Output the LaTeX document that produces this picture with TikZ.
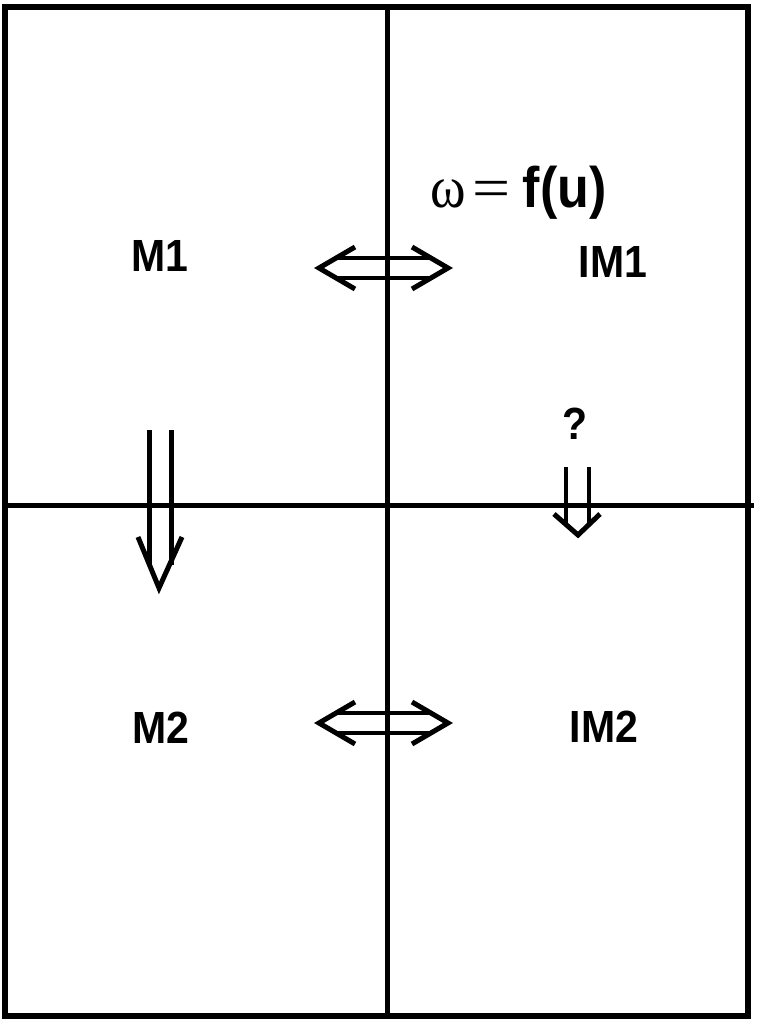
\documentclass[tikz,border=0pt]{standalone}
\usepackage{fontspec}
\setmainfont{Liberation Sans}
\newfontfamily\grfont{Liberation Serif}
\usepackage{graphicx}
\tikzset{
  frameline/.style={line width=5.5pt},
  divline/.style={line width=5pt},
  shaft/.style={line width=3.5pt},
  thickshaft/.style={line width=5pt},
  barb/.style={line width=5pt, line join=miter},
  lbl/.style={font=\fontsize{41}{41}\selectfont\bfseries, inner sep=0pt},
}
\begin{document}
\begin{tikzpicture}[x=1pt,y=-1pt]
\useasboundingbox (0,0) rectangle (757,1023);
\fill[white] (0,0) rectangle (757,1023);
% frame and dividers
\draw[frameline] (5,7) rectangle (748,1016);
\draw[divline] (387,7) -- (387,1016);
\draw[divline] (5,505) -- (754,505);
% labels
\node[lbl] (m1) at (160,256) {\scalebox{1}[1.1]{M1}};
\node[lbl] (im1) at (613,262) {\scalebox{1}[1.1]{IM1}};
\node[lbl] (m2) at (161,728) {\scalebox{1}[1.1]{M2}};
\node[lbl] (im2) at (604,727) {\scalebox{1}[1.1]{IM2}};
\node[lbl] (q) at (575,424) {\scalebox{1}[1.1]{?}};
\node[anchor=base west, inner sep=0pt] (eq) at (430,207)
  {\fontsize{52}{52}\selectfont\scalebox{1}[1.1]{{\grfont\fontsize{54}{54}\selectfont ω}\hspace{7pt}{\grfont\scalebox{1.3}[1]{=}}\hspace{12pt}\textbf{f(u)}}};
% top double arrow
\draw[shaft] (337,258) -- (430,258);
\draw[shaft] (337,278) -- (430,278);
\draw[barb] (355,247) -- (319,268) -- (355,289);
\draw[barb] (412,247) -- (448,268) -- (412,289);
% bottom double arrow
\draw[shaft] (337,713) -- (430,713);
\draw[shaft] (337,733) -- (430,733);
\draw[barb] (355,702) -- (319,723) -- (355,744);
\draw[barb] (412,702) -- (448,723) -- (412,744);
% left down arrow
\draw[thickshaft] (149,430) -- (149,565);
\draw[thickshaft] (171,430) -- (171,565);
\draw[barb] (138,537) -- (159,588) -- (182,537);
% right down arrow
\draw[shaft] (566,467) -- (566,525);
\draw[shaft] (589,467) -- (589,525);
\draw[barb] (554,514) -- (578,535) -- (600,514);
\end{tikzpicture}
\end{document}
